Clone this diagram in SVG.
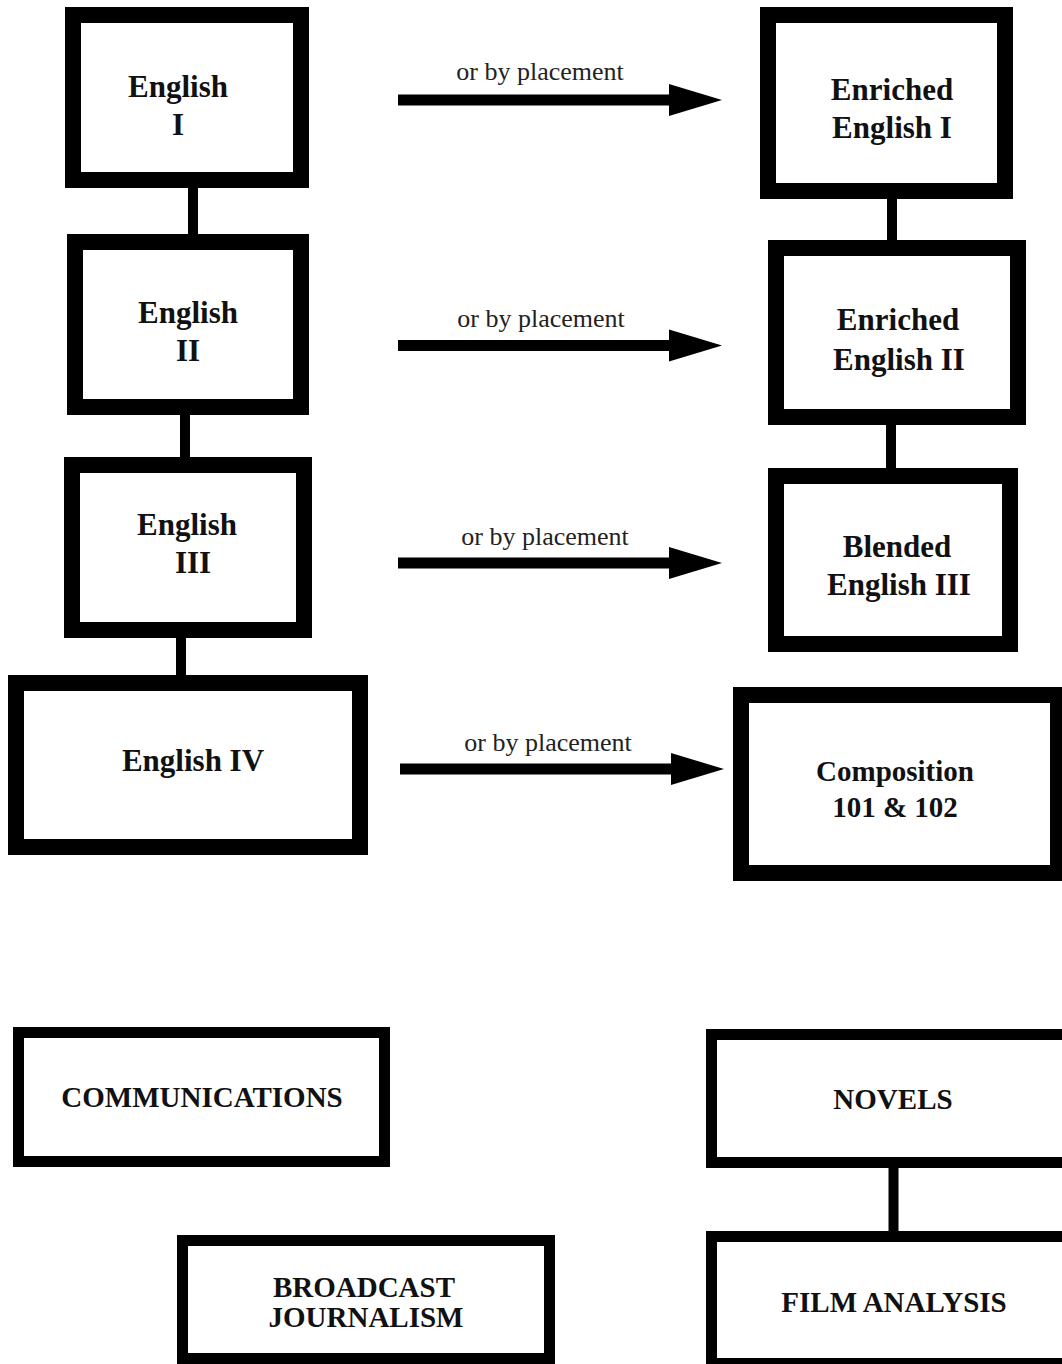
<svg xmlns="http://www.w3.org/2000/svg" width="1062" height="1364" viewBox="0 0 1062 1364">
  <style>
    .box { fill: #ffffff; stroke: #000000; stroke-width: 16; }
    .box2 { fill: #ffffff; stroke: #000000; stroke-width: 11; }
    .t { font-family: "Liberation Serif", "Times New Roman", serif; font-weight: bold; font-size: 31px; fill: #111111; text-anchor: middle; }
    .tb { font-family: "Liberation Serif", "Times New Roman", serif; font-weight: bold; font-size: 29px; fill: #111111; text-anchor: middle; }
    .lbl { font-family: "Liberation Serif", "Times New Roman", serif; font-size: 26px; fill: #222222; text-anchor: middle; }
    .conn { stroke: #000000; stroke-width: 10; fill: none; }
    .arrow { stroke: #000000; stroke-width: 11; fill: none; marker-end: url(#head); }
  </style>
  <defs>
    <marker id="head" markerUnits="userSpaceOnUse" markerWidth="54" markerHeight="32" refX="0" refY="16" orient="auto" overflow="visible">
      <path d="M0,0 L53,16 L0,32 Z" fill="#000000"/>
    </marker>
  </defs>
  <rect width="1062" height="1364" fill="#ffffff"/>

  <g id="connectors">
    <line class="conn" x1="193" y1="188" x2="193" y2="236"/>
    <line class="conn" x1="185" y1="415" x2="185" y2="459"/>
    <line class="conn" x1="181" y1="638" x2="181" y2="677"/>
    <line class="conn" x1="892" y1="199" x2="892" y2="242"/>
    <line class="conn" x1="891" y1="425" x2="891" y2="470"/>
    <line class="conn" x1="893.5" y1="1168" x2="893.5" y2="1233"/>
    <line class="arrow" x1="398" y1="100" x2="669" y2="100"/>
    <line class="arrow" x1="398" y1="345.5" x2="669" y2="345.5"/>
    <line class="arrow" x1="398" y1="563" x2="669" y2="563"/>
    <line class="arrow" x1="400" y1="769" x2="671" y2="769"/>
    <text class="lbl" x="540" y="80">or by placement</text>
    <text class="lbl" x="541" y="327">or by placement</text>
    <text class="lbl" x="545" y="545">or by placement</text>
    <text class="lbl" x="548" y="751">or by placement</text>
  </g>

  <g id="english1">
    <rect class="box" x="73" y="15" width="228" height="165"/>
    <text class="t" x="178" y="97">English</text>
    <text class="t" x="178" y="135">I</text>
  </g>
  <g id="english2">
    <rect class="box" x="75" y="242" width="226" height="165"/>
    <text class="t" x="188" y="323">English</text>
    <text class="t" x="188" y="361">II</text>
  </g>
  <g id="english3">
    <rect class="box" x="72" y="465" width="232" height="165"/>
    <text class="t" x="187" y="535">English</text>
    <text class="t" x="193" y="573">III</text>
  </g>
  <g id="english4">
    <rect class="box" x="16" y="683" width="344" height="164"/>
    <text class="t" x="193" y="771">English IV</text>
  </g>
  <g id="enriched1">
    <rect class="box" x="768" y="15" width="237" height="176"/>
    <text class="t" x="892" y="100">Enriched</text>
    <text class="t" x="892" y="138">English I</text>
  </g>
  <g id="enriched2">
    <rect class="box" x="776" y="248" width="242" height="169"/>
    <text class="t" x="898" y="330">Enriched</text>
    <text class="t" x="899" y="370">English II</text>
  </g>
  <g id="blended3">
    <rect class="box" x="776" y="476" width="234" height="168"/>
    <text class="t" x="897" y="557">Blended</text>
    <text class="t" x="899" y="595">English III</text>
  </g>
  <g id="composition">
    <rect class="box" x="741" y="695" width="317" height="178"/>
    <text class="tb" x="895" y="781">Composition</text>
    <text class="tb" x="895" y="817">101 &amp; 102</text>
  </g>
  <g id="communications">
    <rect class="box2" x="18.5" y="1032.5" width="366" height="129"/>
    <text class="tb" x="202" y="1107">COMMUNICATIONS</text>
  </g>
  <g id="broadcast">
    <rect class="box2" x="182.5" y="1240.5" width="367" height="118"/>
    <text class="tb" x="364" y="1297">BROADCAST</text>
    <text class="tb" x="366" y="1327">JOURNALISM</text>
  </g>
  <g id="novels">
    <rect class="box2" x="711.5" y="1034.5" width="363" height="128"/>
    <text class="tb" x="893" y="1109">NOVELS</text>
  </g>
  <g id="film">
    <rect class="box2" x="711.5" y="1236.5" width="363" height="127"/>
    <text class="tb" x="894" y="1312">FILM ANALYSIS</text>
  </g>
</svg>
